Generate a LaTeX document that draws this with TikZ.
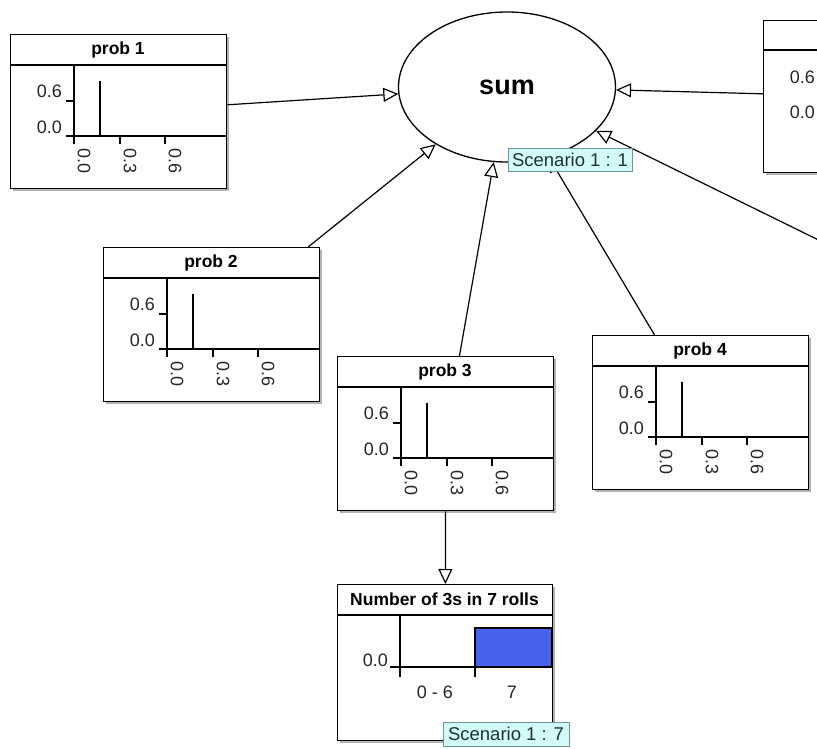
\documentclass[tikz,border=0pt]{standalone}
\usepackage{fontspec}
\setmainfont{Liberation Sans}
\usetikzlibrary{arrows.meta,shapes.geometric}

\definecolor{scenfill}{RGB}{210,250,250}
\definecolor{scenedge}{RGB}{110,150,150}
\definecolor{scentext}{RGB}{30,50,60}
\definecolor{barblue}{RGB}{72,98,240}

\tikzset{
  frame/.style={draw, line width=1.4pt, fill=white, minimum width=216pt,
    minimum height=154pt, anchor=north west, inner sep=0pt},
  shadowbox/.style={fill=black!30},
  axis/.style={line width=1.2pt},
  ttl/.style={font=\bfseries\fontsize{17.5}{20}\selectfont, inner sep=0pt},
  ticklabel/.style={font=\fontsize{18}{20}\selectfont, inner sep=0pt, text=black!85},
  link/.style={line width=1.2pt,
    -{Triangle[open, length=15pt, width=14pt, line width=1.2pt]}},
  scen/.style={draw=scenedge, fill=scenfill, text=scentext,
    font=\fontsize{18.5}{20}\selectfont, inner sep=0pt, line width=0.8pt}
}

% probability chart box: name, left, top, title
\newcommand\probchart[4]{%
  \fill[shadowbox] (#2+3,#3+3) rectangle ++(216,154);
  \node[frame] (#1) at (#2,#3) {};
  \begin{scope}[shift={(#2,#3)}]
    \draw[axis] (0,31) -- (216,31);
    \node[ttl] at (108,15.5) {#4};
    \draw[axis] (64,31) -- (64,110);
    \draw[axis] (56,102) -- (216,102);
    \draw[axis] (56,67) -- (64,67);
    \draw[axis] (90,47) -- (90,102);
    \draw[axis] (110,102) -- (110,110);
    \draw[axis] (155,102) -- (155,110);
    \node[ticklabel, anchor=east] at (52,57) {0.6};
    \node[ticklabel, anchor=east] at (52,93) {0.0};
    \foreach \x/\t in {64/0.0,110/0.3,155/0.6}
      \node[ticklabel, rotate=-90, anchor=west] at (\x+10,114) {\t};
  \end{scope}}

\begin{document}
\begin{tikzpicture}[x=1pt,y=-1pt]
  \useasboundingbox (0,0) rectangle (817,749);
  \fill[white] (0,0) rectangle (817,749);
  \clip (0,0) rectangle (817,749);

  % central sum node
  \node[ellipse, draw, fill=white, line width=1.3pt, minimum width=217pt,
    minimum height=150pt, inner sep=0pt,
    font=\bfseries\fontsize{27}{30}\selectfont] (sum) at (507,87) {sum};

  % probability nodes
  \probchart{p1}{10}{34}{prob 1}
  \probchart{p2}{103}{247}{prob 2}
  \probchart{p3}{337}{356}{prob 3}
  \probchart{p4}{592}{335}{prob 4}

  % node at the right edge: only its left part lies on the page
  \fill[shadowbox] (766,23) rectangle ++(216,152);
  \node[frame, minimum height=152pt] (p5) at (763,20) {};
  \draw[axis] (763,50) -- (817,50);
  \node[ticklabel, anchor=east] at (815,77) {0.6};
  \node[ticklabel, anchor=east] at (815,112) {0.0};

  % count node
  \fill[shadowbox] (340,587) rectangle ++(215,156);
  \node[frame, minimum width=215pt, minimum height=156pt] (count) at (337,584) {};
  \begin{scope}[shift={(337,584)}]
    \draw[axis] (0,31) -- (215,31);
    \node[ttl] at (107.5,15.5) {Number of 3s in 7 rolls};
    \filldraw[axis, fill=barblue] (138,44) rectangle (215,83);
    \draw[axis] (63,31) -- (63,93);
    \draw[axis] (53,83) -- (215,83);
    \draw[axis] (138,83) -- (138,93);
    \node[ticklabel, anchor=east] at (51,76) {0.0};
    \node[ticklabel] at (98,108) {0 - 6};
    \node[ticklabel] at (175,108) {7};
  \end{scope}

  % connectors
  \coordinate (offright) at (900,280);
  \draw[link] (p1) -- (sum);
  \draw[link] (p2) -- (sum);
  \draw[link] (p3) -- (sum);
  \draw[link] (p4) -- (sum);
  \draw[link] (p5) -- (sum);
  \draw[link] (offright) -- (sum);
  \draw[link] (p3) -- (count);

  % scenario tags
  \node[scen, minimum width=124pt, minimum height=23pt] (tag1) at (570,159.5) {Scenario 1 : 1};
  \node[scen, minimum width=126pt, minimum height=24pt] (tag7) at (506,734) {Scenario 1 : 7};
\end{tikzpicture}
\end{document}
